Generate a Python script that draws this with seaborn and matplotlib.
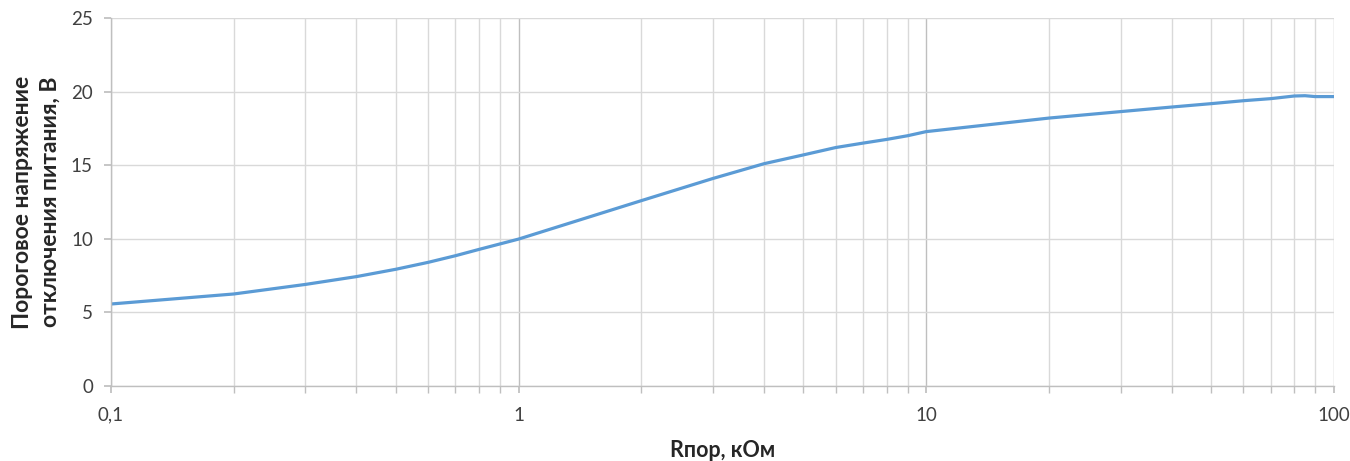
import matplotlib
matplotlib.use("Agg")
import matplotlib.pyplot as plt
import seaborn as sns
import pandas as pd
from matplotlib.ticker import FixedLocator, LogLocator, NullFormatter

r_kohm = [0.1, 0.2, 0.3, 0.4, 0.5, 0.6, 0.7, 0.8, 0.9, 1, 2, 3, 4, 5, 6, 7, 8, 9,
          10, 20, 30, 40, 50, 60, 70, 80, 85, 90, 100]
u_volt = [5.57, 6.25, 6.9, 7.43, 7.93, 8.4, 8.85, 9.28, 9.65, 9.98, 12.59, 14.1, 15.1,
          15.7, 16.2, 16.5, 16.75, 17.0, 17.28, 18.2, 18.64, 18.95, 19.18, 19.38,
          19.52, 19.7, 19.72, 19.66, 19.66]
x_ticks = [0.1, 1, 10, 100]
x_tick_labels = ["0,1", "1", "10", "100"]
y_ticks = [0, 5, 10, 15, 20, 25]

sns.set_theme(style="white")
plt.rcParams['font.family'] = ['Lato', 'DejaVu Sans']

df = pd.DataFrame({"r": r_kohm, "u": u_volt})
fig = plt.figure(figsize=(13.5, 4.61), dpi=100)
ax = fig.add_axes([0.0822, 0.1627, 0.9058, 0.7983])
sns.lineplot(data=df, x="r", y="u", ax=ax, color="#5b9bd5", linewidth=2.3)
ax.set_xscale("log")
ax.set_xlim(0.1, 100)
ax.set_ylim(0, 25)
ax.xaxis.set_major_locator(FixedLocator(x_ticks))
ax.set_xticklabels(x_tick_labels)
ax.xaxis.set_minor_locator(LogLocator(base=10, subs=range(2, 10)))
ax.xaxis.set_minor_formatter(NullFormatter())
ax.set_yticks(y_ticks)
ax.grid(True, which="major", axis="x", color="#bfbfbf", linewidth=1.0)
ax.grid(True, which="minor", axis="x", color="#d9d9d9", linewidth=1.0)
ax.grid(True, which="major", axis="y", color="#d9d9d9", linewidth=1.0)
ax.set_axisbelow(True)
for s in ["top", "right"]:
    ax.spines[s].set_visible(False)
for s in ["left", "bottom"]:
    ax.spines[s].set_color("#bfbfbf")
    ax.spines[s].set_linewidth(1.0)
ax.tick_params(axis="both", which="both", direction="out", color="#bfbfbf",
               labelsize=13.5, labelcolor="#404040")
ax.tick_params(axis="x", which="major", length=5, pad=10, bottom=True)
ax.tick_params(axis="x", which="minor", length=5, bottom=True)
ax.tick_params(axis="y", which="major", length=5, pad=8, left=True)
ax.set_xlabel("Rпор, кОм", fontsize=15.5, fontweight="bold", color="#262626", labelpad=12)
ax.set_ylabel("Пороговое напряжение\nотключения питания, В", fontsize=16.5,
              fontweight="bold", color="#262626", labelpad=7, linespacing=1.4)
fig.savefig("out.png", dpi=100)
